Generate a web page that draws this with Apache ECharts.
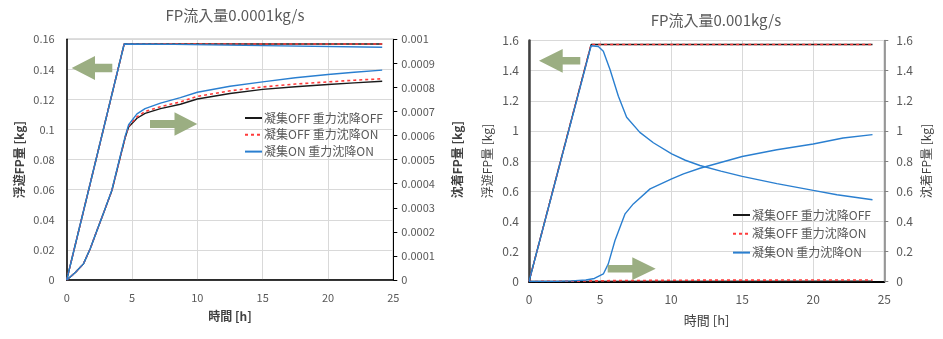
<!DOCTYPE html>
<html><head><meta charset="utf-8">
<script src="https://cdn.jsdelivr.net/npm/echarts@6/dist/echarts.min.js"></script>
<style>html,body{margin:0;padding:0;background:#fff}#c{width:943px;height:339px}</style>
</head><body><div id="c"></div>
<script>
// ---- data ----
const seriesNames = ['凝集OFF 重力沈降OFF', '凝集OFF 重力沈降ON', '凝集ON 重力沈降ON'];
const titles = ['FP流入量0.0001kg/s', 'FP流入量0.001kg/s'];
const xName = '時間 [h]';
const yLeftName = '浮遊FP量 [kg]';
const yRightName = '沈着FP量 [kg]';

// Chart A (0.0001 kg/s): floating FP (left axis)
const aFloatT = [0, 4.4, 24.15];
const aFloatOffOff = [0, 0.1569, 0.1569];
const aFloatOffOn = [0, 0.1569, 0.1569];
const aFloatOnOnT = [0, 4.4, 8.2, 15, 24.15];
const aFloatOnOn = [0, 0.1569, 0.1566, 0.1558, 0.1547];
// Chart A: deposited FP (right axis)
const aDepT = [0, 0.64, 1.28, 1.8, 2.31, 2.9, 3.46, 4.1, 4.49, 4.74, 5.38, 6, 7.18, 8.7, 10, 12.5, 15, 17.5, 20, 22, 24.15];
const aDepOffOff = [0, 0.00003, 0.000067, 0.00013, 0.000205, 0.00029, 0.000372, 0.000511, 0.000594, 0.000636, 0.000672, 0.000692, 0.000712, 0.00073, 0.000752, 0.000775, 0.000792, 0.000803, 0.000812, 0.000819, 0.000826];
const aDepOffOn = [0, 0.00003, 0.000067, 0.00013, 0.000205, 0.00029, 0.000372, 0.000511, 0.000596, 0.000639, 0.000678, 0.0007, 0.00072, 0.00074, 0.000763, 0.000786, 0.000802, 0.000814, 0.000823, 0.00083, 0.000836];
const aDepOnOn = [0, 0.00003, 0.000067, 0.00013, 0.000205, 0.00029, 0.000374, 0.000515, 0.0006, 0.000645, 0.00069, 0.000712, 0.000735, 0.000758, 0.00078, 0.000805, 0.000823, 0.00084, 0.000854, 0.000863, 0.000872];

// Chart B (0.001 kg/s): floating FP (left axis)
const bFloatT = [0, 4.37, 24.17];
const bFloatOffOff = [0, 1.573, 1.573];
const bFloatOffOn = [0, 1.573, 1.573];
const bFloatOnOnT = [0, 4.37, 4.88, 5.23, 5.7, 6.29, 6.87, 7.8, 8.75, 10.04, 11, 12.03, 13.5, 15, 17.44, 20, 21.67, 24.17];
const bFloatOnOn = [0, 1.565, 1.56, 1.529, 1.407, 1.23, 1.09, 0.99, 0.921, 0.847, 0.805, 0.77, 0.733, 0.698, 0.65, 0.605, 0.576, 0.543];
// Chart B: deposited FP (right axis)
const bDepOffOffT = [0, 24.17];
const bDepOffOff = [0, 0.002];
const bDepOffOnT = [0, 3, 6, 12, 24.17];
const bDepOffOn = [0, 0.002, 0.006, 0.009, 0.01];
const bDepOnOnT = [0, 2, 3, 4, 4.6, 5.23, 5.58, 6.05, 6.76, 7.34, 8.52, 10.04, 10.87, 12.03, 15, 17.44, 20, 22.1, 24.17];
const bDepOnOn = [0, 0.001, 0.004, 0.01, 0.02, 0.05, 0.117, 0.272, 0.449, 0.515, 0.615, 0.681, 0.715, 0.752, 0.83, 0.875, 0.913, 0.953, 0.975];

// ---- helpers ----
const pair = (t, v) => t.map((x, i) => [x, v[i]]);
const FONT = '"Noto Sans CJK JP", "Noto Sans", sans-serif';
const fmt = v => String(parseFloat(Number(v).toPrecision(6)));
const colors = ['#1a1a1a', '#ff3b3b', '#2a7fd0'];
const lineStyles = [
  {color: colors[0], width: 1.4, type: 'solid'},
  {color: colors[1], width: 1.6, type: [3, 3]},
  {color: colors[2], width: 1.4, type: 'solid'}
];
function mk(idx, xi, yi, data, z) {
  return {
    type: 'line', name: seriesNames[idx], xAxisIndex: xi, yAxisIndex: yi,
    data: data, symbol: 'none', showSymbol: false, smooth: false, animation: false,
    lineStyle: lineStyles[idx], itemStyle: {color: colors[idx]}, z: z || 2
  };
}
const gridLine = {show: true, lineStyle: {color: '#d9d9d9', width: 1}};

const chart = echarts.init(document.getElementById('c'), null, {renderer: 'canvas'});
const arrowColor = '#9bae82';
function arrow(tipX, tipY, headBaseX, tailX, headH, bodyH) {
  return {type: 'polygon', silent: true, z: 10, shape: {points: [
    [tipX, tipY], [headBaseX, tipY - headH / 2], [headBaseX, tipY - bodyH / 2], [tailX, tipY - bodyH / 2],
    [tailX, tipY + bodyH / 2], [headBaseX, tipY + bodyH / 2], [headBaseX, tipY + headH / 2]]},
    style: {fill: arrowColor}};
}
const legendBase = {
  data: seriesNames, orient: 'vertical', itemWidth: 17, itemHeight: 10, selectedMode: false,
  itemStyle: {opacity: 0, borderWidth: 0},
  textStyle: {fontFamily: FONT, fontSize: 12, color: '#595959', padding: [0, 0, 0, -3]}
};

chart.setOption({
  backgroundColor: '#fff',
  animation: false,
  textStyle: {fontFamily: FONT},
  title: [
    {text: titles[0], left: 230, top: 3, textAlign: 'center', textStyle: {fontFamily: FONT, fontSize: 15, fontWeight: 'normal', color: '#595959'}},
    {text: titles[1], left: 711, top: 8, textAlign: 'center', textStyle: {fontFamily: FONT, fontSize: 15, fontWeight: 'normal', color: '#595959'}}
  ],
  legend: [
    Object.assign({}, legendBase, {left: 239, top: 107, itemGap: 4.8}),
    Object.assign({}, legendBase, {left: 727, top: 204, itemGap: 6.8})
  ],
  grid: [
    {left: 66.7, right: 943 - 393.3, top: 39.3, bottom: 339 - 280, show: true, borderColor: '#595959', borderWidth: 1, backgroundColor: 'transparent'},
    {left: 529, right: 943 - 884.3, top: 40.5, bottom: 339 - 281.5, show: true, borderColor: '#7f7f7f', borderWidth: 1, backgroundColor: 'transparent'}
  ],
  xAxis: [
    {gridIndex: 0, type: 'value', min: 0, max: 25, interval: 5, name: xName, nameLocation: 'middle', nameGap: 30,
     nameTextStyle: {fontFamily: FONT, fontSize: 12, color: '#404040', fontWeight: 'bold'},
     axisLine: {show: true, onZero: false, lineStyle: {color: '#000', width: 1.5}}, axisTick: {show: false},
     axisLabel: {fontFamily: FONT, fontSize: 11, color: '#595959', margin: 12}, splitLine: gridLine},
    {gridIndex: 1, type: 'value', min: 0, max: 25, interval: 5, name: xName, nameLocation: 'middle', nameGap: 32,
     nameTextStyle: {fontFamily: FONT, fontSize: 13, color: '#404040'},
     axisLine: {show: true, onZero: false, lineStyle: {color: '#000', width: 2}}, axisTick: {show: false},
     axisLabel: {fontFamily: FONT, fontSize: 12, color: '#595959', margin: 12}, splitLine: gridLine}
  ],
  yAxis: [
    {gridIndex: 0, type: 'value', min: 0, max: 0.16, interval: 0.02, position: 'left', name: yLeftName,
     nameLocation: 'middle', nameGap: 41, nameRotate: 90,
     nameTextStyle: {fontFamily: FONT, fontSize: 12, color: '#404040', fontWeight: 'bold'},
     axisLine: {show: true, lineStyle: {color: '#000', width: 1.5}}, axisTick: {show: false},
     axisLabel: {fontFamily: FONT, fontSize: 11, color: '#595959', margin: 12, formatter: fmt}, splitLine: gridLine},
    {gridIndex: 0, type: 'value', min: 0, max: 0.001, interval: 0.0001, position: 'right', name: yRightName,
     nameLocation: 'middle', nameGap: 58, nameRotate: 90,
     nameTextStyle: {fontFamily: FONT, fontSize: 12, color: '#404040', fontWeight: 'bold'},
     axisLine: {show: true, lineStyle: {color: '#000', width: 1}}, axisTick: {show: true, inside: false, length: 4, lineStyle: {color: '#000'}},
     axisLabel: {fontFamily: FONT, fontSize: 11, color: '#595959', margin: 8, formatter: fmt}, splitLine: {show: false}},
    {gridIndex: 1, type: 'value', min: 0, max: 1.6, interval: 0.2, position: 'left', name: yLeftName,
     nameLocation: 'middle', nameGap: 36, nameRotate: 90,
     nameTextStyle: {fontFamily: FONT, fontSize: 12, color: '#404040'},
     axisLine: {show: true, lineStyle: {color: '#404040', width: 2.5}}, axisTick: {show: false},
     axisLabel: {fontFamily: FONT, fontSize: 12, color: '#595959', margin: 10, formatter: fmt}, splitLine: gridLine},
    {gridIndex: 1, type: 'value', min: 0, max: 1.6, interval: 0.2, position: 'right', name: yRightName,
     nameLocation: 'middle', nameGap: 36, nameRotate: 90,
     nameTextStyle: {fontFamily: FONT, fontSize: 12, color: '#404040'},
     axisLine: {show: true, lineStyle: {color: '#808080', width: 1.5}}, axisTick: {show: true, inside: false, length: 4, lineStyle: {color: '#808080'}},
     axisLabel: {fontFamily: FONT, fontSize: 12, color: '#595959', margin: 12, formatter: fmt}, splitLine: {show: false}}
  ],
  series: [
    mk(0, 0, 0, pair(aFloatT, aFloatOffOff)),
    mk(1, 0, 0, pair(aFloatT, aFloatOffOn), 3),
    mk(2, 0, 0, pair(aFloatOnOnT, aFloatOnOn), 4),
    mk(0, 0, 1, pair(aDepT, aDepOffOff)),
    mk(1, 0, 1, pair(aDepT, aDepOffOn), 3),
    mk(2, 0, 1, pair(aDepT, aDepOnOn), 4),
    mk(0, 1, 2, pair(bFloatT, bFloatOffOff)),
    mk(1, 1, 2, pair(bFloatT, bFloatOffOn), 3),
    mk(2, 1, 2, pair(bFloatOnOnT, bFloatOnOn), 4),
    mk(0, 1, 3, pair(bDepOffOffT, bDepOffOff)),
    mk(1, 1, 3, pair(bDepOffOnT, bDepOffOn), 3),
    mk(2, 1, 3, pair(bDepOnOnT, bDepOnOn), 4)
  ],
  graphic: [
    arrow(71.7, 68, 95, 112.3, 24, 8.5),
    arrow(197.3, 124, 174.5, 150, 23.5, 8),
    arrow(539, 60.8, 562.7, 580.3, 23.7, 7.5),
    arrow(655.7, 268.7, 632.3, 607.7, 22.7, 7.6)
  ]
});
</script></body></html>
